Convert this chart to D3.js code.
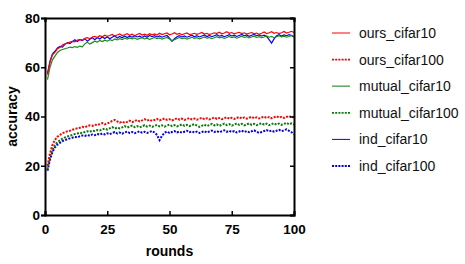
<!DOCTYPE html>
<html>
<head>
<meta charset="utf-8">
<script src="https://cdn.jsdelivr.net/npm/d3@7"></script>
<style>
  body { margin: 0; background: #fff; }
  svg { display: block; font-family: "Liberation Sans", Arial, sans-serif; }
</style>
</head>
<body>
<svg id="chart" width="465" height="264"></svg>
<script>
const svg = d3.select("#chart");
const width = +svg.attr("width");
const height = +svg.attr("height");
const margin = { top: 18, right: 171, bottom: 49, left: 45 };

// rounds 1..100
const rounds = d3.range(1, 101);

const oursCifar10 = [
  57, 62, 65, 66, 67.5, 68, 69, 69.5, 69.8, 70.2,
  70.5, 70.3, 71, 71.2, 71, 71.8, 72, 71.6, 72.3, 72.5,
  72.1, 72.8, 72.4, 73, 72.6, 72.9, 73.3, 72.7, 73.1, 73.5,
  72.9, 73.2, 73.6, 73, 73.4, 72.8, 73.3, 73.7, 73.1, 73.4,
  73, 73.6, 73.2, 73.5, 73.1, 73.8, 73.3, 73.6, 73.9, 73.2,
  73.5, 74, 73.4, 73.7, 73.2, 73.6, 73.9, 73.3, 73.5, 73.8,
  73.4, 73.7, 74.1, 73.5, 73.8, 73.3, 73.6, 74, 73.7, 74.2,
  73.6, 73.9, 74.4, 73.8, 74.1, 73.6, 73.9, 74.2, 73.7, 74,
  73.5, 73.8, 74.1, 73.6, 73.9, 73.4, 73.8, 74.3, 73.7, 74,
  74.4, 73.8, 74.1, 73.7, 74, 74.5, 73.9, 74.2, 74.6, 74.1
];
const oursCifar100 = [
  20, 25, 28.5, 30.5, 31.8, 32.5, 33.2, 33.6, 34, 34.2,
  34.6, 34.9, 35.2, 35.4, 35.8, 35.6, 36.1, 36.4, 36.2, 36.7,
  36.5, 36.9, 37.3, 36.8, 37.2, 37.6, 38.2, 38.6, 38, 37.5,
  37.9, 37.4, 37.8, 38.3, 37.7, 38.1, 38.6, 38, 38.4, 38.9,
  38.3, 38.7, 38.2, 38.6, 39, 38.4, 38.8, 39.2, 38.6, 38.9,
  38.4, 38.8, 39.3, 38.7, 39.1, 38.6, 39, 39.4, 38.8, 39.2,
  38.7, 39.1, 39.5, 38.9, 39.3, 38.8, 39.2, 39.6, 39, 39.4,
  38.9, 39.3, 39.7, 39.1, 39.5, 39, 39.4, 39.8, 39.2, 39.6,
  39.1, 39.5, 39.9, 39.3, 39.7, 39.2, 39.6, 40, 39.4, 39.8,
  39.3, 39.7, 40.1, 39.5, 39.9, 39.4, 39.8, 40.2, 39.6, 39.9
];
const mutualCifar10 = [
  55, 60, 63, 64.5, 66, 66.8, 67.2, 67.5, 67.8, 68.2,
  68, 68.4, 68.1, 68.6, 68.3, 69.5, 70.2, 69.4, 70, 70.6,
  70.2, 70.9, 70.4, 71, 70.6, 71.2, 70.8, 71.5, 71.1, 71.6,
  71.2, 71.8, 71.4, 71.9, 71.5, 71.9, 71.3, 71.7, 72, 71.5,
  71.8, 71.3, 71.7, 72.1, 71.6, 71.9, 71.4, 71.8, 72.1, 71.5,
  70.8, 71.2, 71.7, 72.1, 71.6, 71.9, 71.4, 71.8, 72.2, 71.7,
  72, 71.5, 71.9, 72.3, 71.8, 72.1, 71.6, 72, 72.4, 71.9,
  72.2, 71.7, 72.1, 72.5, 72, 72.3, 71.8, 72.2, 72.6, 72.1,
  72.4, 71.9, 72.3, 72.6, 72.1, 72.4, 72, 72.3, 72.7, 72.2,
  72.5, 72, 72.4, 72.8, 72.3, 72.6, 72.2, 72.5, 72.9, 72.5
];
const mutualCifar100 = [
  18.5, 23.5, 26.5, 28.5, 29.6, 30.3, 31, 31.5, 31.9, 32.2,
  32.5, 32.9, 33.1, 33.4, 33.2, 33.7, 34, 33.8, 34.3, 34.1,
  34.5, 34.3, 34.8, 35.1, 34.7, 35.2, 35.7, 35.1, 35.5, 35.2,
  35.6, 36.1, 35.5, 35.9, 36.3, 35.7, 36.1, 35.6, 36, 36.5,
  35.9, 36.3, 35.8, 36.2, 36.6, 36, 36.4, 35.9, 36.3, 36.7,
  36.1, 36.5, 36, 36.4, 36.8, 36.2, 36.6, 36.1, 36.5, 36.9,
  36.3, 35.8, 36.2, 36.7, 36.1, 36.5, 37, 36.4, 36.8, 36.2,
  36.6, 37.1, 36.5, 36.9, 36.3, 36.7, 37.2, 36.6, 37, 36.4,
  36.8, 37.2, 36.6, 37, 36.5, 36.9, 37.3, 36.7, 37.1, 36.5,
  36.9, 37.3, 36.7, 37.1, 36.6, 37, 37.4, 36.8, 37.2, 36.7
];
const indCifar10 = [
  57.5, 62.5, 65.5, 66.5, 67.8, 68.5, 68.2, 69.3, 70, 69.6,
  70.4, 71.2, 70.5, 71.3, 70.8, 71.6, 70.6, 71.4, 72, 71.2,
  72.1, 71.5, 72.3, 71.7, 72.4, 71.6, 72.2, 72.8, 71.9, 72.5,
  72, 72.7, 72.1, 72.6, 72.2, 72.8, 72.3, 72.6, 72.1, 72.7,
  72.2, 72.9, 72.4, 72.8, 72.3, 72.7, 72.2, 72.6, 72.9, 71.8,
  70.5, 71.6, 72.4, 72.8, 72.3, 72.7, 72.2, 72.6, 73, 72.4,
  72.8, 72.3, 72.7, 73.1, 72.5, 72.9, 72.4, 72.8, 73.2, 72.6,
  72.9, 72.4, 72.8, 73.2, 72.7, 73, 72.5, 72.9, 73.3, 72.8,
  73.1, 72.6, 73, 73.3, 72.8, 73.1, 72.7, 73, 72.5, 71.2,
  69.8, 71.5, 72.8, 73.2, 72.7, 73.1, 72.8, 73.2, 72.9, 72.3
];
const indCifar100 = [
  18, 22.5, 25.5, 27.5, 28.6, 29.3, 30, 30.4, 30.8, 31.1,
  31.4, 31.7, 31.5, 32, 32.3, 32.1, 32.5, 32.2, 32.7, 32.4,
  32.9, 32.6, 33.1, 32.7, 33.2, 32.8, 33.3, 33.7, 33.1, 33.5,
  33, 33.5, 33.9, 33.3, 33.7, 33.2, 33.6, 34, 33.4, 33.8,
  33.3, 33.7, 34.1, 33.5, 32.5, 30.4, 32.2, 33.4, 33.9, 33.3,
  33.7, 34.1, 33.5, 33.9, 33.4, 33.8, 34.2, 33.6, 34, 33.5,
  33.9, 33.3, 33.7, 34.1, 33.5, 33.9, 34.3, 33.7, 34.1, 33.6,
  34, 34.4, 33.8, 34.2, 33.7, 34.1, 33.5, 33.9, 34.3, 33.7,
  34.1, 33.6, 34, 34.4, 33.8, 33.3, 33.7, 34.1, 34.5, 33.9,
  34.3, 33.8, 34.2, 34.6, 34, 34.4, 34.8, 34.2, 33.6, 32.8
];

const seriesNames = ["ours_cifar10", "ours_cifar100", "mutual_cifar10", "mutual_cifar100", "ind_cifar10", "ind_cifar100"];
const seriesValues = [oursCifar10, oursCifar100, mutualCifar10, mutualCifar100, indCifar10, indCifar100];
const xTicks = [0, 25, 50, 75, 100];
const yTicks = [0, 20, 40, 60, 80];

const series = seriesNames.map((name, i) => ({
  name: name,
  dotted: name.endsWith("100"),
  values: seriesValues[i].map((v, j) => ({ round: rounds[j], acc: v }))
}));

const color = d3.scaleOrdinal()
  .domain(seriesNames)
  .range(["#ff0000", "#ff0000", "#1a8c1a", "#0a7a0a", "#0000ff", "#0000e0"]);

const x = d3.scaleLinear()
  .domain([0, 100])
  .range([margin.left, width - margin.right]);

const y = d3.scaleLinear()
  .domain([0, 80])
  .range([height - margin.bottom, margin.top]);

const line = d3.line()
  .x(d => x(d.round))
  .y(d => y(d.acc));

// Lines (draw blue first so red sits on top like the original)
const drawOrder = [4, 5, 2, 3, 0, 1];
svg.selectAll(".series")
  .data(drawOrder.map(i => series[i]))
  .enter()
  .append("path")
    .attr("class", "series")
    .attr("d", d => line(d.values))
    .attr("fill", "none")
    .attr("stroke", d => color(d.name))
    .attr("stroke-width", d => d.dotted ? 2 : 1.2)
    .attr("stroke-dasharray", d => d.dotted ? "2,1.4" : null);

// Axes
svg.append("g") // x-axis
  .attr("transform", `translate(0,${y(0)})`)
  .call(d3.axisBottom(x).tickValues(xTicks).tickSize(-4).tickPadding(9));

svg.append("g") // top mirror ticks
  .attr("transform", `translate(0,${y(80)})`)
  .call(d3.axisTop(x).tickValues(xTicks).tickSize(-4).tickFormat(""));

svg.append("g") // y-axis
  .attr("transform", `translate(${x(0)},0)`)
  .call(d3.axisLeft(y).tickValues(yTicks).tickSize(4).tickPadding(1));

svg.append("g") // right mirror ticks
  .attr("transform", `translate(${x(100)},0)`)
  .call(d3.axisRight(y).tickValues(yTicks).tickSize(-4).tickFormat(""));

svg.selectAll(".domain")
  .attr("stroke", "#000")
  .attr("stroke-width", 2);
svg.selectAll(".tick line")
  .attr("stroke", "#000")
  .attr("stroke-width", 1.5);
svg.selectAll(".tick text")
  .attr("font-family", "'Liberation Sans', Arial, sans-serif")
  .attr("font-size", "13.5px")
  .attr("font-weight", "bold")
  .attr("fill", "#000");

// Labels
svg.append("text")
  .attr("x", x(50))
  .attr("y", 256)
  .attr("text-anchor", "middle")
  .attr("font-size", "14px")
  .attr("font-weight", "bold")
  .text("rounds");

svg.append("text")
  .attr("transform", "rotate(-90)")
  .attr("x", -y(40))
  .attr("y", 17)
  .attr("text-anchor", "middle")
  .attr("font-size", "14px")
  .attr("font-weight", "bold")
  .text("accuracy");

// Legend
const legend = svg.append("g")
  .attr("transform", "translate(332, 33)");

legend.selectAll("legend-lines")
  .data(series)
  .enter()
  .append("line")
    .attr("x1", 0)
    .attr("x2", 18)
    .attr("y1", (d, i) => i * 26.6)
    .attr("y2", (d, i) => i * 26.6)
    .attr("stroke", d => d.name === "mutual_cifar10" ? "#6aaa6a" : color(d.name))
    .attr("stroke-width", d => d.dotted ? 1.8 : (d.name === "mutual_cifar10" ? 1.6 : 1))
    .attr("stroke-dasharray", d => d.dotted ? "2,1.2" : null);

legend.selectAll("legend-labels")
  .data(series)
  .enter()
  .append("text")
    .attr("x", 27)
    .attr("y", (d, i) => i * 26.6 + 5)
    .text(d => d.name)
    .attr("font-size", "14px")
    .attr("fill", "#111");
</script>
</body>
</html>
